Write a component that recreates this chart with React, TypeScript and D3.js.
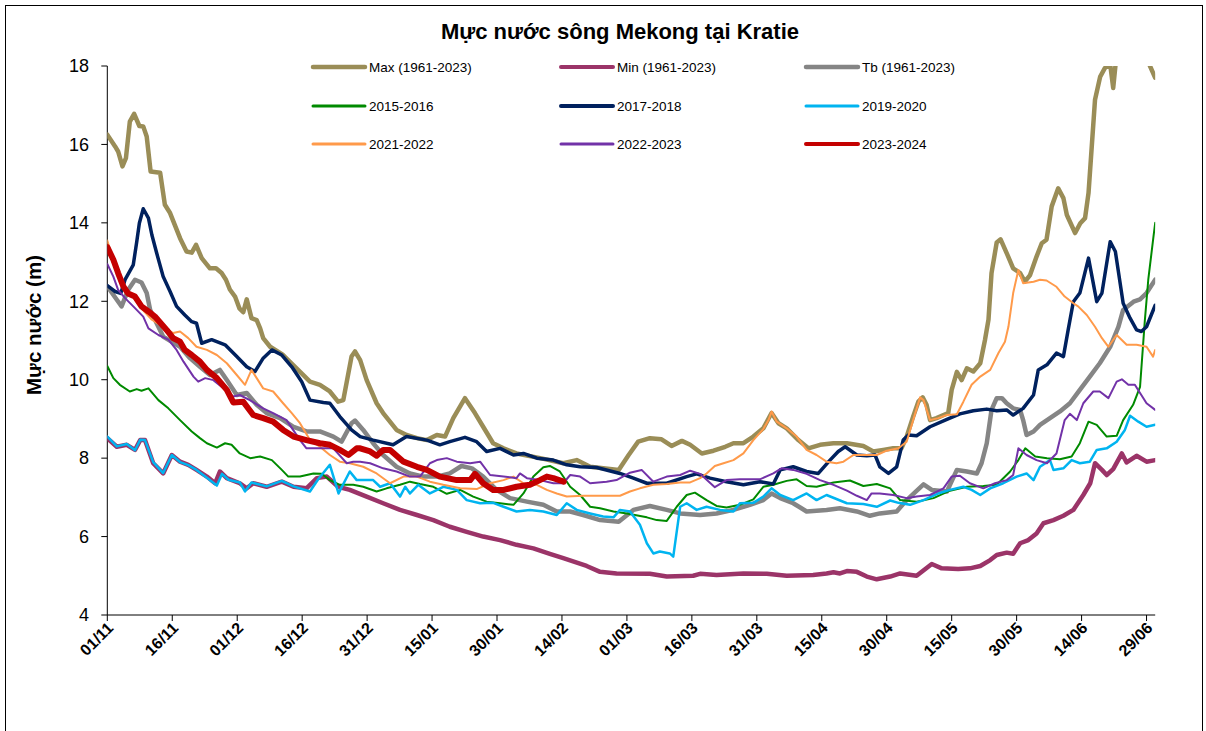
import React, { useEffect } from "react";
import * as d3 from "d3";

// x = days since 01/11, y = water level (m)
const X_LABELS = ["01/11","16/11","01/12","16/12","31/12","15/01","30/01","14/02","01/03","16/03","31/03","15/04","30/04","15/05","30/05","14/06","29/06"];
const Y_TICKS = [4, 6, 8, 10, 12, 14, 16, 18];

const maxLevel: [number, number][] = [
[0,16.25],[1.8,15.95],[2.5,15.82],[3.5,15.44],[4.3,15.65],[5.2,16.58],[6.2,16.78],[7.4,16.47],[8.3,16.46],[9.1,16.2],[10,15.31],[12.2,15.28],[13.3,14.46],[14.5,14.25],[16.8,13.61],[18.3,13.27],[19.5,13.24],[20.5,13.44],[21.8,13.1],[23.7,12.84],[25.1,12.84],[26.4,12.72],[27.4,12.55],[28.3,12.3],[29.5,12.12],[30.5,11.82],[31.4,11.72],[32.2,12.05],[33.3,11.57],[34.5,11.52],[35.3,11.31],[36,11.06],[37.6,10.84],[40.6,10.63],[43.7,10.29],[46.8,9.95],[49.1,9.87],[51.4,9.7],[53.3,9.44],[54.5,9.48],[56.4,10.59],[57.2,10.72],[58.4,10.5],[59.9,9.99],[62.2,9.4],[63.7,9.15],[66.8,8.72],[69.1,8.59],[71.5,8.51],[73.8,8.46],[76.1,8.59],[78,8.55],[79.9,9.02],[82.6,9.53],[84.9,9.15],[86.8,8.8],[89.1,8.38],[91.5,8.25],[94.5,8.12],[100,8.0],[105.3,7.87],[108.4,7.95],[111.5,7.78],[118.1,7.7],[120.4,8.08],[122.6,8.42],[125.3,8.51],[128,8.48],[130.3,8.31],[132.7,8.44],[134.6,8.34],[137.3,8.12],[140,8.19],[142.7,8.29],[144.6,8.38],[146.9,8.38],[149.2,8.55],[151.5,8.76],[153.4,9.15],[155,8.89],[156.9,8.76],[159.6,8.46],[161.9,8.25],[164.6,8.34],[167.7,8.38],[170.8,8.38],[174.6,8.31],[176.9,8.17],[179.2,8.21],[181.5,8.25],[183.4,8.25],[184.6,8.55],[186.1,9.06],[187.3,9.44],[188.3,9.55],[189.2,9.36],[190,8.97],[191.5,9.02],[194.2,9.15],[195,9.74],[196.2,10.2],[197.3,9.99],[198.5,10.29],[200,10.21],[201.6,10.42],[202.7,11.02],[203.5,11.53],[204.2,12.72],[205.4,13.5],[206.3,13.58],[207.7,13.23],[209.2,12.84],[210.8,12.72],[211.9,12.5],[213.1,12.67],[214.6,13.14],[215.8,13.48],[216.9,13.57],[218.1,14.42],[219.6,14.88],[220.8,14.63],[221.6,14.2],[223.5,13.74],[224.7,13.99],[225.8,14.12],[226.6,14.76],[227.4,16.03],[228.1,17.14],[229.3,17.73],[230.4,17.95],[231.6,18.05],[232.3,17.44],[232.9,18.1],[234,18.4],[236,18.6],[238,18.5],[240,18.2],[240.8,18.0],[242,17.7]
];

const minLevel: [number, number][] = [
[0,8.51],[2.2,8.29],[4.5,8.34],[6.4,8.21],[7.6,8.46],[8.7,8.46],[10.6,7.87],[12.9,7.61],[14.9,8.08],[16.8,7.91],[18.7,7.83],[20.6,7.7],[23,7.53],[24.9,7.36],[26,7.66],[27.6,7.49],[30.6,7.36],[32.2,7.23],[33.7,7.36],[36.8,7.27],[40.3,7.4],[43,7.27],[46,7.23],[48.4,7.49],[50.7,7.53],[53.3,7.27],[56,7.19],[59.9,7.02],[63.7,6.85],[67.6,6.68],[71.5,6.55],[75.3,6.42],[79.1,6.25],[83,6.12],[86.8,6.0],[90.7,5.91],[94.5,5.79],[98.4,5.7],[102.2,5.56],[105.3,5.45],[110.7,5.25],[113.8,5.1],[117.6,5.06],[125.3,5.05],[129.2,4.98],[135.3,5.0],[136.9,5.05],[140.7,5.02],[146.9,5.06],[152.3,5.05],[156.9,5.0],[163,5.02],[166.1,5.06],[167.7,5.09],[169.2,5.06],[170.8,5.12],[173.1,5.1],[175.4,4.98],[177.7,4.91],[180.8,4.98],[183.1,5.06],[186.9,5.0],[190.4,5.3],[192.7,5.19],[196.5,5.17],[199.2,5.19],[201.6,5.25],[203.9,5.4],[205.4,5.53],[207.7,5.59],[209.2,5.56],[210.8,5.83],[212.7,5.91],[214.6,6.08],[216.2,6.34],[218.5,6.42],[220.8,6.53],[223.1,6.68],[225.4,7.06],[227,7.36],[228.1,7.87],[229.7,7.7],[230.8,7.57],[232.3,7.72],[234.3,8.12],[235.4,7.89],[237.7,8.06],[240,7.91],[242,7.95]
];

const avgLevel: [number, number][] = [
[0,12.38],[2.2,12.04],[3.3,11.87],[4.8,12.29],[6.4,12.55],[7.9,12.48],[9.1,12.21],[9.9,11.78],[12.9,11.1],[16.8,10.84],[19.1,10.55],[21.4,10.33],[23.7,10.12],[26,10.25],[27.6,9.99],[29.9,9.61],[32.2,9.66],[34.5,9.36],[36.8,9.15],[39.9,9.02],[43,8.8],[46,8.68],[49.1,8.68],[52.2,8.55],[54.1,8.42],[56.4,8.89],[57.2,8.96],[59.1,8.72],[61.4,8.38],[63.7,8.08],[66.8,7.78],[69.9,7.61],[73,7.53],[76.1,7.53],[79.1,7.61],[81.8,7.8],[84.2,7.74],[86.8,7.53],[89.9,7.19],[93,6.98],[96.9,6.89],[100.7,6.81],[103.8,6.64],[106.9,6.64],[109.9,6.55],[113.8,6.42],[118.1,6.38],[121.5,6.68],[125.3,6.78],[129.2,6.68],[132.3,6.59],[136.9,6.55],[140.7,6.59],[144.6,6.68],[148.4,6.81],[151.5,6.93],[153.4,7.1],[155.4,6.98],[158.4,6.85],[161.5,6.64],[166.1,6.68],[169.2,6.72],[173.1,6.64],[176.1,6.53],[178.4,6.59],[182.3,6.64],[184.6,6.93],[188.5,7.33],[190.4,7.19],[193.9,7.15],[196.2,7.7],[198.5,7.66],[200.8,7.61],[201.9,7.87],[203.1,8.38],[204.2,9.23],[205.4,9.53],[206.6,9.53],[207.7,9.4],[209.2,9.27],[210.8,9.23],[211.5,8.97],[212.3,8.59],[213.9,8.68],[215.4,8.85],[217.7,9.02],[220,9.19],[222.3,9.4],[224.6,9.74],[226.9,10.08],[229.2,10.42],[231.6,10.84],[233.5,11.35],[234.6,11.78],[237,11.99],[238.5,12.05],[240,12.21],[242,12.55]
];

const y2015: [number, number][] = [
[0,10.35],[1.4,10.04],[2.9,9.87],[5.2,9.7],[6.8,9.76],[7.9,9.72],[9.5,9.78],[11.8,9.48],[14.1,9.27],[16.8,8.97],[19.5,8.68],[21.4,8.51],[23,8.38],[25.3,8.27],[27.2,8.38],[28.7,8.34],[30.6,8.12],[33,8.0],[35.3,8.04],[38,7.95],[40.3,7.7],[41.8,7.53],[44.5,7.53],[47.6,7.61],[49.5,7.6],[51.4,7.44],[53.7,7.32],[56.8,7.32],[59.1,7.27],[62.2,7.15],[64.5,7.23],[67.6,7.32],[69.9,7.4],[72.2,7.34],[75.3,7.27],[78.4,7.09],[81.5,7.19],[84.5,7.02],[87.6,6.89],[90.7,6.85],[93.8,6.81],[96.1,7.1],[98.4,7.53],[100.7,7.77],[102.2,7.8],[104.5,7.66],[106.9,7.27],[109.2,7.06],[111.5,6.76],[113.8,6.72],[116.9,6.64],[120,6.59],[124.6,6.49],[126.9,6.42],[129.2,6.4],[131.5,6.76],[133.8,7.06],[135.7,7.12],[138.4,6.93],[140.7,6.78],[143,6.74],[146.1,6.81],[149.2,6.95],[151.5,7.27],[153.8,7.32],[156.9,7.42],[159.2,7.46],[161.5,7.29],[163.8,7.27],[167.7,7.38],[171.5,7.43],[174.6,7.29],[177.7,7.34],[180.8,7.23],[183.1,6.93],[186.9,6.89],[190.8,6.98],[194.6,7.17],[198.5,7.27],[202.3,7.29],[205.4,7.32],[208.5,7.66],[210.4,7.95],[212,8.25],[214.3,8.04],[217,8.0],[220,7.97],[222.7,8.04],[224.6,8.38],[226.6,8.93],[228.5,8.85],[230.8,8.55],[233.1,8.57],[234.6,8.97],[236.9,9.36],[238.5,9.82],[239.6,11.5],[240.4,12.55],[241.6,13.65],[242,14.0]
];

const y2017: [number, number][] = [
[0,12.4],[1.8,12.25],[3.1,12.2],[4.1,12.55],[6,12.93],[6.8,13.52],[7.4,13.99],[8.3,14.36],[9.5,14.12],[10.3,13.69],[11.4,13.23],[12.9,12.63],[14.5,12.25],[16,11.87],[17.9,11.65],[19.5,11.48],[20.6,11.44],[21.8,10.93],[24.1,11.02],[27.2,10.89],[29.9,10.59],[32.2,10.33],[34.1,10.21],[36,10.55],[38,10.76],[40.3,10.63],[42.6,10.33],[44.9,9.95],[46.8,9.48],[49.9,9.42],[51.4,9.4],[53.7,9.06],[56.4,8.72],[58.4,8.55],[61.4,8.46],[66,8.34],[69.1,8.55],[73.8,8.46],[76.8,8.34],[79.1,8.42],[82.6,8.53],[85.3,8.42],[87.6,8.17],[90.7,8.25],[93.8,8.08],[96.1,8.12],[99.2,8.0],[103,7.95],[106.1,7.83],[109.2,7.78],[113,7.76],[118.4,7.61],[121.5,7.49],[124.6,7.36],[129.2,7.36],[133.8,7.53],[136.1,7.6],[139.2,7.49],[143,7.4],[146.9,7.32],[150.7,7.4],[153.8,7.34],[155.4,7.7],[158.4,7.78],[161.5,7.66],[164.2,7.61],[166.9,7.95],[168.8,8.17],[170.4,8.29],[173.1,8.08],[175.4,8.06],[177.3,8.08],[178.4,7.78],[180.4,7.61],[182.3,7.78],[183.8,8.46],[185,8.59],[186.9,8.57],[190,8.8],[193.9,8.99],[196.9,9.13],[200,9.21],[203.1,9.25],[205.4,9.21],[207.7,9.23],[209.2,9.1],[211.5,9.27],[213.9,9.61],[215,10.25],[217,10.38],[219.2,10.68],[220.8,10.59],[221.9,11.27],[223.1,11.99],[224.6,12.21],[226.6,13.1],[228.5,11.99],[229.7,12.21],[231.6,13.52],[232.8,13.27],[234.6,11.95],[236.2,11.57],[237.7,11.27],[238.8,11.23],[240,11.35],[242,11.9]
];

const y2019: [number, number][] = [
[0,8.55],[2.2,8.3],[4.5,8.36],[6.4,8.2],[7.6,8.47],[8.7,8.46],[10.6,7.9],[12.9,7.62],[14.9,8.08],[16.8,7.9],[18.7,7.82],[20.6,7.7],[23,7.5],[25.3,7.3],[26.5,7.6],[28,7.45],[30.6,7.38],[31.8,7.15],[33.3,7.38],[36.8,7.28],[40.3,7.42],[43,7.28],[46.8,7.15],[48.7,7.46],[51.4,7.83],[53.4,7.1],[56,7.66],[57.6,7.44],[59.1,7.44],[61.4,7.44],[63,7.27],[65.3,7.36],[67.6,7.02],[68.8,7.27],[69.9,7.1],[71.8,7.32],[74.5,7.1],[77.6,7.27],[80.7,7.19],[83,6.93],[86.1,6.85],[89.1,6.86],[91.5,6.76],[94.5,6.64],[97.6,6.68],[100.7,6.64],[103.8,6.55],[106.1,6.85],[108.4,6.68],[111.5,6.59],[114.5,6.51],[116.9,6.49],[118.4,6.68],[120.7,6.64],[123,6.3],[124.6,5.83],[126.1,5.57],[127.6,5.62],[129.9,5.57],[130.7,5.49],[132.3,6.76],[133.8,6.85],[136.1,6.68],[138.4,6.76],[141.5,6.68],[144.6,6.64],[146.1,6.85],[149.2,6.86],[151.5,7.02],[153.4,7.23],[155.4,7.06],[158.4,6.93],[160,7.02],[161.5,7.1],[163.8,6.93],[166.1,7.06],[170.8,6.85],[174.6,6.83],[177.7,6.76],[180.8,6.92],[182.7,6.86],[185.4,6.81],[188.5,6.93],[191.9,7.1],[194.6,7.19],[197.7,7.27],[199.6,7.19],[201.6,7.06],[203.9,7.23],[206.9,7.36],[210,7.53],[212.3,7.61],[213.9,7.44],[215.4,7.78],[217.7,7.95],[218.5,7.7],[220.8,7.74],[222.7,7.95],[224.6,7.87],[226.9,7.91],[228.5,8.21],[230.8,8.25],[233.1,8.42],[235,8.72],[236.2,9.08],[238.1,8.93],[240,8.8],[242,8.85]
];

const y2021: [number, number][] = [
[0,13.55],[2,12.8],[4,12.3],[6,12.1],[8,11.8],[10.3,11.53],[12.2,11.4],[15.2,11.19],[16.8,11.23],[18.7,11.06],[20.6,10.84],[23,10.76],[25.3,10.63],[27.6,10.42],[29.9,10.12],[31.8,9.87],[33.3,10.25],[34.5,10.04],[36,9.78],[38.3,9.7],[40.6,9.4],[42.6,9.15],[44.5,8.89],[46.8,8.46],[49.1,8.29],[51.4,8.08],[53.7,7.91],[56,7.87],[59.1,7.78],[62.2,7.61],[65.3,7.36],[68.4,7.53],[71.5,7.53],[74.5,7.4],[77.6,7.32],[81.5,7.23],[85.3,7.21],[88.4,7.36],[91.5,7.44],[93.8,7.53],[96.1,7.36],[99.2,7.32],[101.5,7.19],[103.8,7.1],[106.1,7.02],[109.9,7.04],[113.8,7.04],[118.4,7.04],[120.7,7.15],[123,7.23],[126.1,7.32],[129.2,7.34],[132.3,7.38],[134.6,7.38],[136.9,7.49],[138.4,7.61],[140.3,7.8],[142.3,7.87],[144.6,7.95],[146.9,8.12],[149.2,8.46],[151.5,8.74],[152.7,8.97],[153.4,9.19],[154.6,8.93],[156.9,8.76],[159.2,8.55],[161.5,8.21],[163.8,8.08],[166.1,7.91],[168.4,7.87],[170,7.91],[172.3,8.08],[175.4,8.08],[177.7,8.08],[180,8.19],[182.7,8.25],[184.6,8.42],[186.1,8.97],[187.7,9.55],[188.5,9.48],[190,8.97],[191.9,9.02],[193.9,9.1],[196.2,9.12],[197.7,9.44],[199.6,9.87],[201.6,10.08],[203.9,10.25],[205.8,10.68],[207.3,10.97],[208.1,11.35],[209.2,12.21],[210.4,12.8],[211.5,12.46],[213.9,12.5],[215.4,12.55],[216.9,12.53],[219.2,12.37],[221.1,12.12],[223.1,11.95],[224.2,11.87],[226.2,11.65],[228.1,11.35],[229.7,11.06],[231.2,10.84],[233.1,11.14],[235.4,10.89],[237.7,10.89],[240,10.84],[241.5,10.59],[242,10.76]
];

const y2022: [number, number][] = [
[0,12.95],[1.4,12.63],[2.5,12.29],[4.1,12.08],[6,11.87],[8.3,11.61],[9.5,11.31],[11.8,11.14],[14.1,11.02],[16,10.76],[17.6,10.46],[19.9,10.08],[21,9.95],[22.6,10.04],[24.5,9.99],[26.8,9.78],[29.1,9.57],[30.6,9.61],[32.9,9.48],[36,9.27],[38.3,9.15],[41.4,8.97],[44.5,8.46],[46,8.25],[49.1,8.25],[52.2,8.25],[55.3,7.87],[56.8,7.91],[58.4,7.91],[60.7,7.87],[63.7,7.74],[66.8,7.66],[69.9,7.53],[72.2,7.53],[74.5,7.87],[76.1,7.95],[78.4,8.0],[80.7,7.91],[83.8,7.87],[86.1,7.91],[88.4,7.57],[91.5,7.53],[94.5,7.49],[95.3,7.61],[96.9,7.49],[99.9,7.44],[103,7.36],[105.3,7.36],[106.9,7.57],[109.2,7.53],[111.5,7.36],[115.3,7.4],[117.6,7.44],[120.7,7.63],[123.4,7.7],[126.1,7.4],[129.2,7.53],[132.3,7.57],[134.6,7.68],[136.9,7.6],[140.3,7.26],[143,7.44],[146.1,7.46],[150.7,7.46],[153.8,7.61],[155.7,7.74],[158.4,7.7],[161.5,7.6],[164.6,7.44],[167.7,7.32],[170.8,7.17],[173.1,7.04],[175.4,6.93],[176.5,7.1],[178.4,7.1],[181.5,7.06],[184.6,6.98],[186.9,7.02],[190,7.06],[193.1,7.23],[195,7.53],[196.9,7.55],[199.2,7.36],[202.3,7.23],[205,7.36],[207.7,7.44],[209.2,7.57],[210.4,8.25],[212.3,8.08],[214.6,7.95],[217,7.87],[219.2,8.12],[221.1,8.97],[222.3,9.13],[223.9,8.97],[225.4,9.4],[227.7,9.7],[229.2,9.7],[231.2,9.53],[233.1,9.95],[234.3,10.01],[235.8,9.87],[237.3,9.87],[240,9.4],[242,9.23]
];

const y2023: [number, number][] = [
[0,13.38],[1.4,13.06],[2.5,12.72],[3.7,12.38],[4.8,12.2],[6.4,12.12],[7.9,11.87],[9.5,11.74],[11,11.61],[13.7,11.27],[15.2,11.06],[16.8,10.97],[17.9,10.76],[19.5,10.63],[21.4,10.46],[23,10.25],[25.3,10.04],[27.6,9.74],[29.1,9.42],[31.4,9.44],[33.7,9.1],[36,9.02],[38.3,8.93],[40.6,8.72],[43,8.55],[46,8.46],[49.1,8.38],[51.4,8.34],[53.7,8.21],[55.7,8.08],[57.6,8.25],[58.4,8.25],[60.7,8.17],[62.2,8.06],[63.7,8.21],[65.3,8.21],[68.4,7.91],[71.5,7.78],[73.8,7.7],[76.8,7.53],[80.7,7.44],[83.8,7.44],[84.9,7.6],[86.8,7.36],[89.1,7.19],[91.5,7.19],[94.5,7.27],[97.6,7.32],[99.9,7.44],[101.5,7.53],[103,7.49],[105.4,7.4]
];

const SERIES_NAMES = ["Max (1961-2023)","Min (1961-2023)","Tb (1961-2023)","2015-2016","2017-2018","2019-2020","2021-2022","2022-2023","2023-2024"];
const SERIES_DATA = [maxLevel, minLevel, avgLevel, y2015, y2017, y2019, y2021, y2022, y2023];
const SERIES_COLORS = ["#9a8d57","#9b3468","#858585","#008a00","#00215e","#00b4f0","#ff9a4a","#7232a8","#c40000"];
const SERIES_WIDTHS = [4.5, 4.5, 4.5, 2, 3.5, 2.5, 2, 2, 6];
const LEGEND_WIDTHS = [4.5, 4, 4.5, 3, 4, 3, 3, 3, 4];

const FONT = "'Liberation Sans', Arial, Helvetica, sans-serif";

export default function App() {
  useEffect(() => {
    document.body.style.margin = "0";
    document.body.style.overflow = "hidden";
  }, []);

  const W = 1206, H = 731;
  const left = 107.3, right = 1155.2, top = 66, bottom = 615;
  const x = d3.scaleLinear().domain([0, 242]).range([left, right]);
  const y = d3.scaleLinear().domain([4, 18]).range([bottom, top]);
  const line = d3.line<[number, number]>().x(d => x(d[0])).y(d => y(d[1]));

  const legendCols = [313, 561, 806];
  const legendRows = [67, 106, 144];

  return (
    <svg width={W} height={H} style={{ position: "absolute", left: 0, top: 0, background: "#fff" }} fontFamily={FONT}>
      <rect x={0} y={0} width={W} height={H} fill="#fff" />
      <rect x={5.5} y={5.5} width={1197} height={800} fill="none" stroke="#000" strokeWidth={1} />
      <defs>
        <clipPath id="plotClip">
          <rect x={left} y={top} width={right - left} height={bottom - top} />
        </clipPath>
      </defs>

      <text x={620} y={39} textAnchor="middle" fontSize={22} fontWeight="bold" fill="#000">Mực nước sông Mekong tại Kratie</text>

      {/* Y axis */}
      <line x1={left} x2={left} y1={top} y2={bottom} stroke="#000" strokeWidth={1} />
      {Y_TICKS.map(t => (
        <g key={t}>
          <line x1={left - 6} x2={left} y1={y(t)} y2={y(t)} stroke="#000" strokeWidth={1} />
          <text x={89} y={y(t)} dy="0.35em" textAnchor="end" fontSize={18} fill="#000">{t}</text>
        </g>
      ))}
      <text transform={`translate(41,325) rotate(-90)`} textAnchor="middle" fontSize={20.5} fontWeight="bold" fill="#000">Mực nước (m)</text>

      {/* X axis */}
      <line x1={left} x2={right} y1={bottom} y2={bottom} stroke="#000" strokeWidth={1} />
      {X_LABELS.map((lab, i) => {
        const xp = x(i * 15);
        return (
          <g key={lab}>
            <line x1={xp} x2={xp} y1={bottom} y2={bottom + 6} stroke="#000" strokeWidth={1} />
            <text transform={`translate(${xp + 7},${bottom + 14}) rotate(-45)`} textAnchor="end" fontSize={16} fontWeight="bold" fill="#000">{lab}</text>
          </g>
        );
      })}

      {/* Series */}
      <g clipPath="url(#plotClip)">
        {SERIES_DATA.map((data, i) => (
          <path key={SERIES_NAMES[i]} d={line(data) || ""} fill="none" stroke={SERIES_COLORS[i]} strokeWidth={SERIES_WIDTHS[i]} strokeLinejoin="round" strokeLinecap="round" />
        ))}
      </g>

      {/* Legend */}
      {SERIES_NAMES.map((name, i) => {
        const cx = legendCols[i % 3];
        const cy = legendRows[Math.floor(i / 3)];
        return (
          <g key={name}>
            <line x1={cx} x2={cx + 52} y1={cy} y2={cy} stroke={SERIES_COLORS[i]} strokeWidth={LEGEND_WIDTHS[i]} strokeLinecap="round" />
            <text x={cx + 56} y={cy} dy="0.35em" fontSize={13.5} fill="#000">{name}</text>
          </g>
        );
      })}
    </svg>
  );
}
